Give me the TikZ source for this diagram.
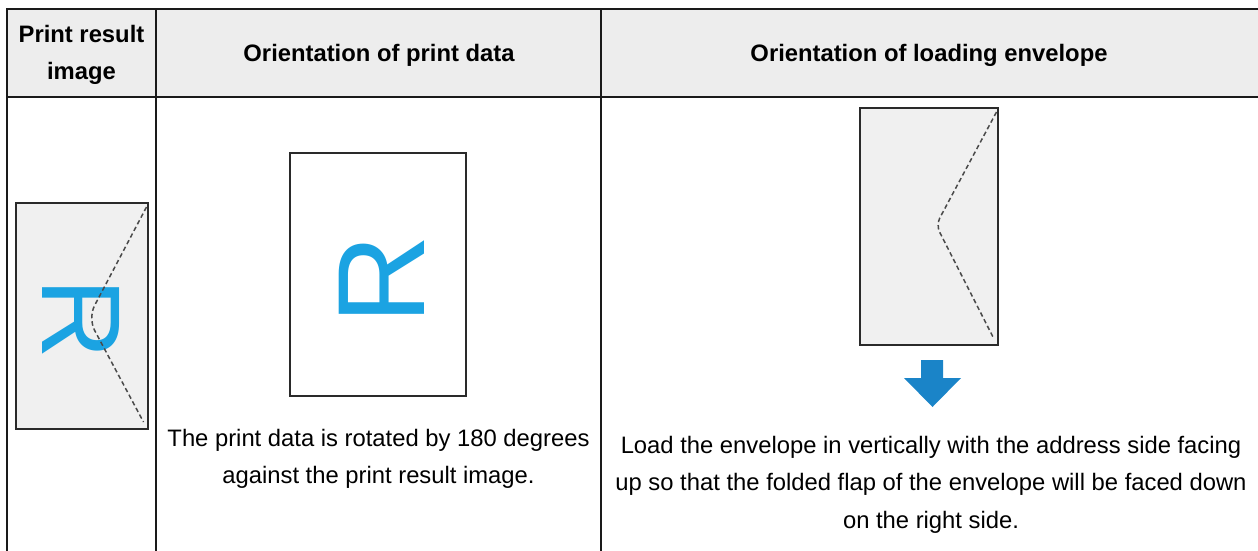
\documentclass[tikz,border=0pt]{standalone}
\usepackage{fontspec}
\setmainfont{Liberation Sans}
\definecolor{hdrfill}{HTML}{EDEDED}
\definecolor{envfill}{HTML}{F0F0F0}
\definecolor{rblue}{HTML}{1BA3E2}
\definecolor{arrblue}{HTML}{1A84C8}
\definecolor{rule}{HTML}{1A1A1A}
\definecolor{frame}{HTML}{2A2A2A}
\definecolor{dashgray}{HTML}{4A4A4A}
\tikzset{
  gridline/.style={draw=rule, line width=1.8pt},
  hdrtext/.style={inner sep=0pt, align=center, font=\bfseries\fontsize{23.8}{37}\selectfont},
  bodytext/.style={inner sep=0pt, align=center, font=\fontsize{23.8}{37.5}\selectfont},
  sheet/.style={draw=frame, line width=2.8pt},
  foldline/.style={draw=dashgray, line width=1.5pt, dash pattern=on 4.5pt off 3pt},
  rglyph/.style={inner sep=0pt, text=rblue, font=\fontsize{112}{112}\selectfont},
}
\begin{document}
\begin{tikzpicture}[x=1pt,y=-1pt]
\useasboundingbox (0,0) rectangle (1258,551);
% header background
\fill[hdrfill] (7,9) rectangle (1260,97);
% grid
\draw[gridline] (7,9) -- (1260,9);
\draw[gridline] (7,97) -- (1260,97);
\draw[gridline] (7,8.1) -- (7,552);
\draw[gridline] (156,9) -- (156,552);
\draw[gridline] (601,9) -- (601,552);
% header texts
\node[hdrtext] (h1) at (81.5,54.5) {Print result\\image};
\node[hdrtext, anchor=base] (h2) at (379,61.5) {Orientation of print data};
\node[hdrtext, anchor=base] (h3) at (929,61.5) {Orientation of loading envelope};
% column 1: print result image (envelope)
\draw[sheet, fill=envfill] (16,203) rectangle (148,429);
\node[rglyph, rotate=-90] (r1) at (81,318.5) {R};
\coordinate (f1a) at (146.5,207);
\coordinate (f1b) at (88,318);
\coordinate (f1c) at (143.5,422);
\draw[foldline, rounded corners=14pt] (f1a) -- (f1b) -- (f1c);
% column 2: print data
\draw[sheet, fill=white] (290,153) rectangle (466,396);
\node[rglyph, rotate=90, font=\fontsize{124}{124}\selectfont] (r2) at (381.5,280) {R};
\node[bodytext] (t2) at (378.5,459) {The print data is rotated by 180 degrees\\against the print result image.};
% column 3: loading envelope
\draw[sheet, fill=envfill] (860,108) rectangle (998,345);
\coordinate (f3a) at (996.5,112);
\coordinate (f3b) at (936,225);
\coordinate (f3c) at (993,337);
\draw[foldline, rounded corners=8pt] (f3a) -- (f3b) -- (f3c);
\fill[arrblue] (921,360) -- (943,360) -- (943,378) -- (961,378) -- (932.5,407) -- (904,378) -- (921,378) -- cycle;
\node[bodytext] (t3) at (931,484.5) {Load the envelope in vertically with the address side facing\\up so that the folded flap of the envelope will be faced down\\on the right side.};
\end{tikzpicture}
\end{document}
